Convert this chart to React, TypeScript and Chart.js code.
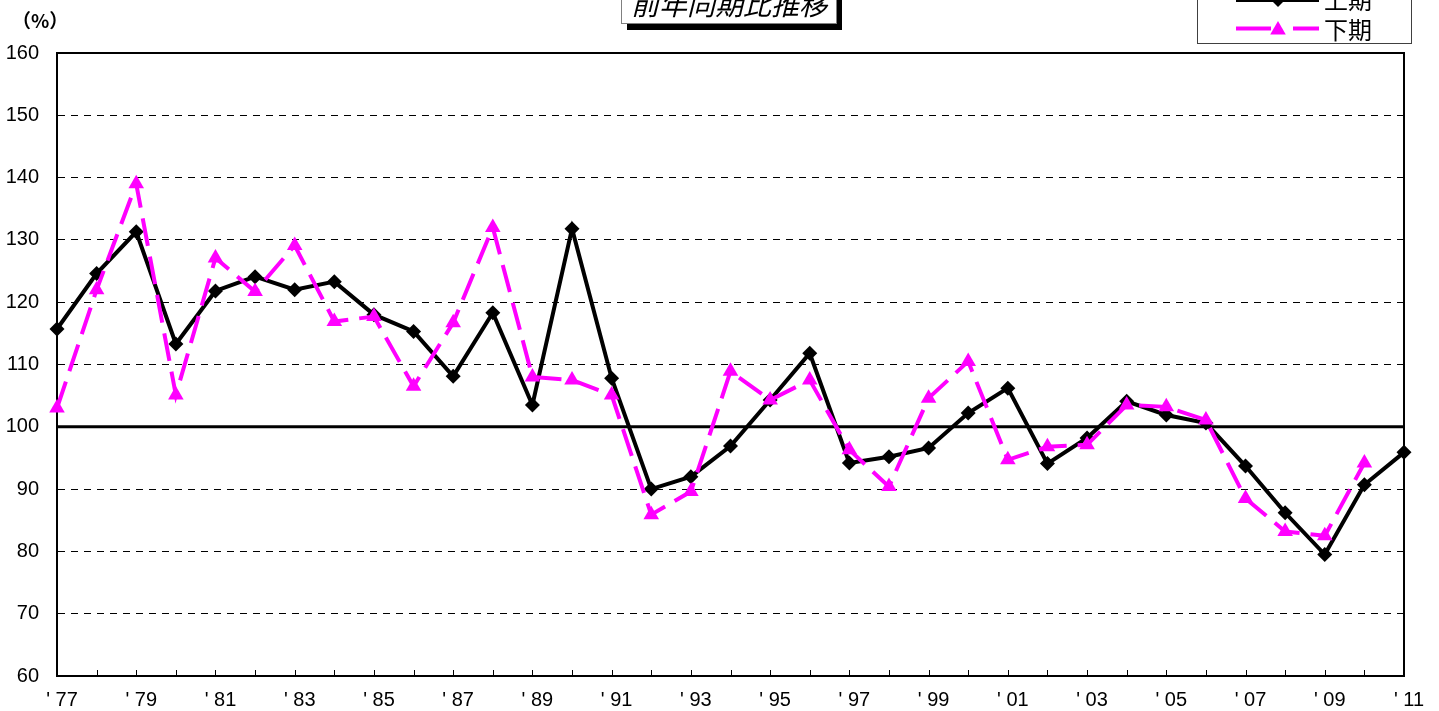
import React, { useEffect, useRef } from "react";
import { Chart, registerables } from "chart.js";
Chart.register(...registerables);

const categories = [
  "77", "78", "79", "80", "81", "82", "83", "84", "85", "86", "87", "88",
  "89", "90", "91", "92", "93", "94", "95", "96", "97", "98", "99", "00",
  "01", "02", "03", "04", "05", "06", "07", "08", "09", "10", "11",
];
const firstHalf = [
  115.7, 124.6, 131.3, 113.3, 121.8, 124.1, 122.0, 123.3, 118.0, 115.3, 108.1, 118.3,
  103.5, 131.8, 107.8, 90.0, 92.0, 96.9, 104.3, 111.8, 94.2, 95.2, 96.6, 102.2,
  106.2, 94.1, 98.2, 104.1, 101.9, 100.6, 93.7, 86.2, 79.5, 90.7, 95.9,
];
const secondHalf = [
  103.0, 122.0, 139.0, 105.1, 127.1, 121.7, 129.1, 116.9, 117.7, 106.5, 116.7, 132.0,
  108.0, 107.5, 105.1, 85.9, 89.6, 108.9, 104.3, 107.5, 96.3, 90.4, 104.6, 110.5,
  94.7, 96.8, 97.1, 103.5, 103.2, 101.1, 88.5, 83.2, 82.5, 94.2, null,
];
const seriesNames = ["上期", "下期"];
const titleText = "前年同期比推移";
const unitText = "（%）";
const baseline = 100;
const yMin = 60;
const yMax = 160;
const yStep = 10;

const BLACK = "#000000";
const MAGENTA = "#FF00FF";
const CJK = "'Noto Sans CJK JP', 'Noto Sans CJK SC', sans-serif";

function diamond(ctx: CanvasRenderingContext2D, x: number, y: number, r: number) {
  ctx.beginPath();
  ctx.moveTo(x, y - r);
  ctx.lineTo(x + r, y);
  ctx.lineTo(x, y + r);
  ctx.lineTo(x - r, y);
  ctx.closePath();
  ctx.fill();
}
function triangle(ctx: CanvasRenderingContext2D, x: number, y: number, r: number) {
  ctx.beginPath();
  ctx.moveTo(x, y - r);
  ctx.lineTo(x + r * 0.866, y + r * 0.5);
  ctx.lineTo(x - r * 0.866, y + r * 0.5);
  ctx.closePath();
  ctx.fill();
}

const decor = {
  id: "decor",
  beforeDatasetsDraw(chart: any) {
    const { ctx, chartArea: a, scales } = chart;
    ctx.save();
    const y100 = scales.y.getPixelForValue(baseline);
    ctx.strokeStyle = BLACK;
    ctx.lineWidth = 3;
    ctx.beginPath();
    ctx.moveTo(a.left, y100);
    ctx.lineTo(a.right, y100);
    ctx.stroke();
    ctx.lineWidth = 2;
    ctx.strokeRect(a.left, a.top, a.right - a.left, a.bottom - a.top);
    ctx.lineWidth = 1;
    for (let i = 0; i < categories.length; i++) {
      const px = Math.round(scales.x.getPixelForTick(i)) + 0.5;
      ctx.beginPath();
      ctx.moveTo(px, a.bottom);
      ctx.lineTo(px, a.bottom - 6);
      ctx.stroke();
    }
    ctx.restore();
  },
  afterDraw(chart: any) {
    const ctx: CanvasRenderingContext2D = chart.ctx;
    ctx.save();
    // unit label
    ctx.fillStyle = BLACK;
    ctx.font = `bold 19px ${CJK}`;
    ctx.textAlign = "left";
    ctx.textBaseline = "middle";
    ctx.fillText(unitText, 12, 21);

    // title box with shadow
    ctx.fillStyle = BLACK;
    ctx.fillRect(627, -10, 215, 40);
    ctx.fillStyle = "#ffffff";
    ctx.fillRect(622, -10, 215, 33);
    ctx.strokeStyle = "#808080";
    ctx.lineWidth = 1;
    ctx.strokeRect(621.5, -10, 215, 33.5);
    ctx.fillStyle = BLACK;
    ctx.font = `italic 28px ${CJK}`;
    ctx.textAlign = "center";
    ctx.textBaseline = "middle";
    ctx.fillText(titleText, 729, 4);

    // legend
    ctx.fillStyle = "#ffffff";
    ctx.fillRect(1197, -20, 215, 63);
    ctx.strokeStyle = "#404040";
    ctx.strokeRect(1197.5, -20, 214, 63.5);
    // row 1
    ctx.strokeStyle = BLACK;
    ctx.lineWidth = 4;
    ctx.beginPath();
    ctx.moveTo(1236, 0);
    ctx.lineTo(1319, 0);
    ctx.stroke();
    ctx.fillStyle = BLACK;
    diamond(ctx, 1278, 0, 7);
    // row 2
    ctx.strokeStyle = MAGENTA;
    ctx.setLineDash([35, 22]);
    ctx.beginPath();
    ctx.moveTo(1236, 28.5);
    ctx.lineTo(1319, 28.5);
    ctx.stroke();
    ctx.setLineDash([]);
    ctx.fillStyle = MAGENTA;
    triangle(ctx, 1278, 30, 9);
    ctx.fillStyle = BLACK;
    ctx.font = `24px ${CJK}`;
    ctx.textAlign = "left";
    ctx.textBaseline = "middle";
    ctx.fillText(seriesNames[0], 1324, 0);
    ctx.fillText(seriesNames[1], 1324, 30);
    ctx.restore();
  },
};

export default function App() {
  const ref = useRef<HTMLCanvasElement | null>(null);
  useEffect(() => {
    if (!ref.current) return;
    Chart.defaults.font.family = "'Liberation Sans', Arial, sans-serif";
    const chart = new Chart(ref.current, {
      type: "line",
      data: {
        labels: categories,
        datasets: [
          {
            label: seriesNames[0],
            data: firstHalf,
            borderColor: BLACK,
            backgroundColor: BLACK,
            borderWidth: 4,
            pointStyle: "rectRot",
            pointRadius: 7.5,
            pointBorderWidth: 0,
            tension: 0,
            clip: false as any,
            order: 1,
          },
          {
            label: seriesNames[1],
            data: secondHalf,
            borderColor: MAGENTA,
            backgroundColor: MAGENTA,
            borderWidth: 4,
            borderDash: [28, 11],
            pointStyle: "triangle",
            pointRadius: 9,
            pointBorderWidth: 0,
            tension: 0,
            spanGaps: false,
            clip: false as any,
            order: 0,
          },
        ],
      },
      options: {
        responsive: false,
        animation: false,
        events: [],
        layout: { padding: { top: 53, right: 35, left: 0, bottom: 0 } },
        plugins: {
          legend: { display: false },
          tooltip: { enabled: false },
          title: { display: false },
        },
        scales: {
          x: {
            type: "category",
            offset: false,
            afterFit: (s: any) => {
              s.height = 35;
            },
            grid: { display: false, drawTicks: false },
            border: { display: true, color: BLACK, width: 2 },
            ticks: {
              autoSkip: false,
              maxRotation: 0,
              minRotation: 0,
              padding: 12,
              labelOffset: 5,
              color: BLACK,
              font: { size: 20 },
              callback: (_v: any, i: number) => (i % 2 === 0 ? `' ${categories[i]}` : ""),
            },
          },
          y: {
            min: yMin,
            max: yMax,
            afterFit: (s: any) => {
              s.width = 57;
            },
            grid: {
              drawTicks: false,
              color: (c: any) =>
                c.tick && (c.tick.value === baseline || c.tick.value === yMax || c.tick.value === yMin)
                  ? "rgba(0,0,0,0)"
                  : BLACK,
              lineWidth: 1,
            },
            border: { display: true, color: BLACK, width: 2, dash: [7, 6] },
            ticks: {
              stepSize: yStep,
              padding: 18,
              color: BLACK,
              font: { size: 20 },
            },
          },
        },
      } as any,
      plugins: [decor],
    });
    return () => chart.destroy();
  }, []);
  return (
    <div style={{ position: "absolute", left: 0, top: 0, width: 1439, height: 711, background: "#fff" }}>
      <canvas ref={ref} width={1439} height={711} />
    </div>
  );
}
